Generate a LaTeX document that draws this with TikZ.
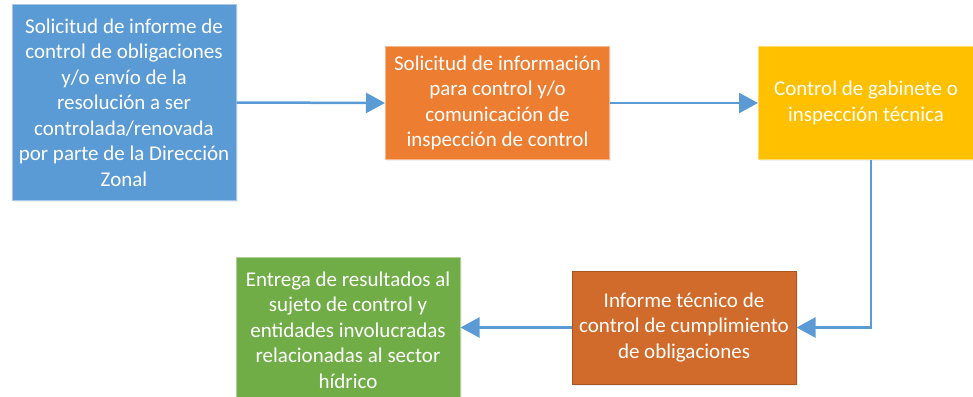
\documentclass[tikz,border=0pt]{standalone}
\usepackage{fontspec}
\setmainfont{Carlito}
\usepackage{xcolor}
\usepackage{tikz}
\usetikzlibrary{arrows.meta,positioning,calc,shadows}

\definecolor{bluebox}{HTML}{5B9BD5}
\definecolor{orangebox}{HTML}{ED7D31}
\definecolor{goldbox}{HTML}{FFC000}
\definecolor{rustbox}{HTML}{D16B2B}
\definecolor{greenbox}{HTML}{70AD47}
\definecolor{flow}{HTML}{5B9BD5}

\tikzset{
  stage/.style={draw, line width=1pt, text=white, align=center,
    minimum width=224pt, inner sep=0pt,
    font=\fontsize{21}{25.5}\selectfont,
    drop shadow={opacity=0.12, shadow xshift=1.5pt, shadow yshift=-1.5pt}},
  flowline/.style={draw=flow, line width=2.5pt,
    -{Triangle[length=19pt,width=20pt]}}
}

\begin{document}
\begin{tikzpicture}[x=1pt,y=-1pt]
  \clip (0,0) rectangle (973,396);
  \node [stage, fill=bluebox, draw=bluebox!55!white, minimum height=195pt] (sol) at (124,102.5)
    {Solicitud de informe de\\control de obligaciones\\y/o envío de la\\resolución a ser\\controlada/renovada\\por parte de la Dirección\\Zonal};
  \node [stage, fill=orangebox, draw=orangebox!55!white, minimum height=112pt] (info) at (497.5,103)
    {Solicitud de información\\para control y/o\\comunicación de\\inspección de control};
  \node [stage, fill=goldbox, draw=goldbox!55!white, minimum width=215pt, minimum height=112pt] (ctrl) at (866,103)
    {Control de gabinete o\\inspección técnica};
  \node [stage, fill=rustbox, draw=rustbox!80!black, minimum height=113pt] (inf) at (684,327.5)
    {Informe técnico de\\control de cumplimiento\\de obligaciones};
  \node [stage, fill=greenbox, draw=greenbox!55!white, minimum height=146pt] (ent) at (348,330)
    {Entrega de resultados al\\sujeto de control y\\entidades involucradas\\relacionadas al sector\\hídrico};
  \draw [flowline] (sol.east) -- (info.west);
  \draw [flowline] (info.east) -- (ctrl.west);
  \draw [flowline] ([xshift=5pt]ctrl.south) |- (inf.east);
  \draw [flowline] (inf.west) -- (inf.west -| ent.east);
\end{tikzpicture}
\end{document}
